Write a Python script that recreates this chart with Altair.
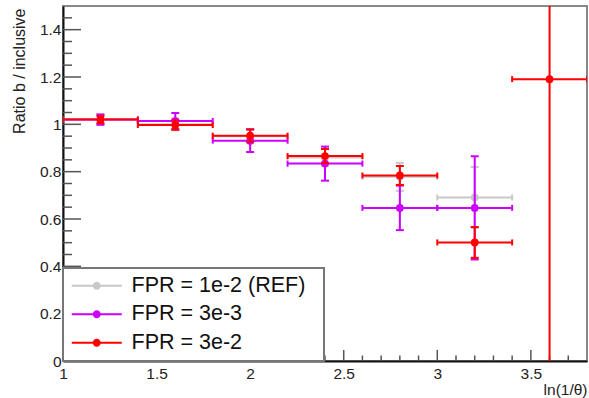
import altair as alt
import pandas as pd

# ---------------- data ----------------
bin_lo = [1.0, 1.4, 1.8, 2.2, 2.6, 3.0, 3.4]
bin_hi = [1.4, 1.8, 2.2, 2.6, 3.0, 3.4, 3.8]
bin_center = [1.2, 1.6, 2.0, 2.4, 2.8, 3.2, 3.6]

labels = ["FPR = 1e-2 (REF)", "FPR = 3e-3", "FPR = 3e-2"]
colors = ["#c8c8c8", "#cc00ff", "#ff0000"]

ref_val = [1.02, 1.0, 0.95, 0.86, 0.778, 0.691, None]
ref_err = [0.02, 0.025, 0.03, 0.035, 0.059, 0.129, None]
fpr3e3_val = [1.02, 1.014, 0.931, 0.834, 0.647, 0.647, None]
fpr3e3_err = [0.022, 0.034, 0.048, 0.072, 0.094, 0.218, None]
fpr3e2_val = [1.02, 0.997, 0.952, 0.866, 0.784, 0.501, 1.191]
fpr3e2_err = [0.015, 0.02, 0.026, 0.03, 0.04, 0.065, 1.4]

series_vals = [ref_val, fpr3e3_val, fpr3e2_val]
series_errs = [ref_err, fpr3e3_err, fpr3e2_err]

y_major = [0, 0.2, 0.4, 0.6, 0.8, 1.0, 1.2, 1.4]
y_minor = [0.05, 0.1, 0.15, 0.25, 0.3, 0.35, 0.45, 0.5, 0.55, 0.65, 0.7, 0.75,
           0.85, 0.9, 0.95, 1.05, 1.1, 1.15, 1.25, 1.3, 1.35, 1.45]
x_major = [1.0, 1.5, 2.0, 2.5, 3.0, 3.5]
x_minor = [1.1, 1.2, 1.3, 1.4, 1.6, 1.7, 1.8, 1.9, 2.1, 2.2, 2.3, 2.4,
           2.6, 2.7, 2.8, 2.9, 3.1, 3.2, 3.3, 3.4, 3.6, 3.7]

FONT = "Liberation Sans"
W, H = 524, 355

xs = alt.Scale(domain=[1, 3.8], nice=False, zero=False)
ys = alt.Scale(domain=[0, 1.5], nice=False, zero=False)
color_scale = alt.Scale(domain=labels, range=colors)

x_axis = alt.Axis(values=x_major, format="~g", title="ln(1/θ)", titleX=W, titleY=33,
                  titleAlign="right", titleBaseline="alphabetic", titleAnchor="end",
                  titleFontSize=15.5, titleFontWeight="normal", labelPadding=5,
                  labelFlush=False)
y_axis = alt.Axis(values=y_major, format="~g", title="Ratio b / inclusive", titleX=-39, titleY=2,
                  titleAngle=-90, titleAlign="right", titleBaseline="alphabetic", titleAnchor="end",
                  titleFontSize=16, titleFontWeight="normal", labelPadding=2,
                  labelFlush=False)


def X(field):
    return alt.X(field, scale=xs, axis=x_axis)


def Y(field):
    return alt.Y(field, scale=ys, axis=y_axis)


legend_path = ("M-2.5,-0.1H2.5V0.1H-2.5Z "
               "M-0.4,0A0.4,0.4 0 1,1 0.4,0A0.4,0.4 0 1,1 -0.4,0Z")
legend = alt.Legend(title="\u00a0", titleOrient="right", titlePadding=12, titleFontSize=21,
                    orient="bottom-left", offset=0, padding=7,
                    fillColor="white", strokeColor="#777777",
                    labelFont=FONT, labelFontSize=21.5, labelColor="#111111", labelLimit=500,
                    symbolType=legend_path, symbolSize=400, symbolStrokeWidth=0,
                    symbolOpacity=1, symbolOffset=16, labelOffset=24, rowPadding=5.5)

# ---------------- tick marks (inside the frame) ----------------
tick_color = "#555555"
y_major_ticks = alt.Chart(pd.DataFrame({"v": y_major})).mark_rule(
    color=tick_color, strokeWidth=1.5).encode(
    y=Y("v:Q"), x=alt.value(0), x2=alt.value(18))
x_major_ticks = alt.Chart(pd.DataFrame({"v": x_major})).mark_rule(
    color=tick_color, strokeWidth=1.5).encode(
    x=X("v:Q"), y=alt.value(H), y2=alt.value(H - 11))
y_minor_ticks = alt.Chart(pd.DataFrame({"v": y_minor})).mark_rule(
    color=tick_color, strokeWidth=1.5).encode(
    y=Y("v:Q"), x=alt.value(0), x2=alt.value(9))
x_minor_ticks = alt.Chart(pd.DataFrame({"v": x_minor})).mark_rule(
    color=tick_color, strokeWidth=1.5).encode(
    x=X("v:Q"), y=alt.value(H), y2=alt.value(H - 5.5))

layers = [y_major_ticks, x_major_ticks, y_minor_ticks, x_minor_ticks]

# ---------------- data series ----------------
for i, (label, vals, errs) in enumerate(zip(labels, series_vals, series_errs)):
    rows = []
    for lo, hi, c, v, e in zip(bin_lo, bin_hi, bin_center, vals, errs):
        if v is None:
            continue
        rows.append({"series": label, "x": c, "xlo": lo, "xhi": hi,
                     "y": v, "ylo": v - e, "yhi": v + e})
    df = pd.DataFrame(rows)
    col_nolegend = alt.Color("series:N", scale=color_scale, legend=None)
    base = alt.Chart(df)
    hbar = base.mark_rule(strokeWidth=2, clip=True).encode(
        x=X("xlo:Q"), x2="xhi:Q", y=Y("y:Q"), color=col_nolegend)
    vbar = base.mark_rule(strokeWidth=2, clip=True).encode(
        x=X("x:Q"), y=Y("ylo:Q"), y2="yhi:Q", color=col_nolegend)
    cap_l = base.mark_tick(orient="vertical", size=6, thickness=2, opacity=1, clip=True).encode(
        x=X("xlo:Q"), y=Y("y:Q"), color=col_nolegend)
    cap_r = base.mark_tick(orient="vertical", size=6, thickness=2, opacity=1, clip=True).encode(
        x=X("xhi:Q"), y=Y("y:Q"), color=col_nolegend)
    cap_b = base.mark_tick(orient="horizontal", size=8, thickness=2, opacity=1, clip=True).encode(
        x=X("x:Q"), y=Y("ylo:Q"), color=col_nolegend)
    cap_t = base.mark_tick(orient="horizontal", size=8, thickness=2, opacity=1, clip=True).encode(
        x=X("x:Q"), y=Y("yhi:Q"), color=col_nolegend)
    pts = base.mark_circle(size=60, opacity=1, clip=True).encode(
        x=X("x:Q"), y=Y("y:Q"),
        color=alt.Color("series:N", scale=color_scale, legend=legend))
    if i == 0:
        # first colour layer carries the legend so the shared legend is kept
        layers += [pts, hbar, vbar, cap_l, cap_r, cap_b, cap_t]
    else:
        layers += [hbar, vbar, cap_l, cap_r, cap_b, cap_t, pts]

chart = alt.layer(*layers).properties(
    width=W, height=H,
    autosize=alt.AutoSizeParams(type="none"),
    padding={"left": 63, "top": 6, "right": 2, "bottom": 37},
    background="white",
).configure_view(
    stroke="#888888", strokeWidth=2
).configure_axis(
    grid=False, ticks=False, domainColor="#111111", domainWidth=2,
    labelFont=FONT, labelFontSize=15.5, labelColor="#222222",
    titleFont=FONT, titleColor="#222222",
).configure_legend(
    strokeWidth=2
)

chart.save("out.html", embed_options={"renderer": "svg", "actions": False})
